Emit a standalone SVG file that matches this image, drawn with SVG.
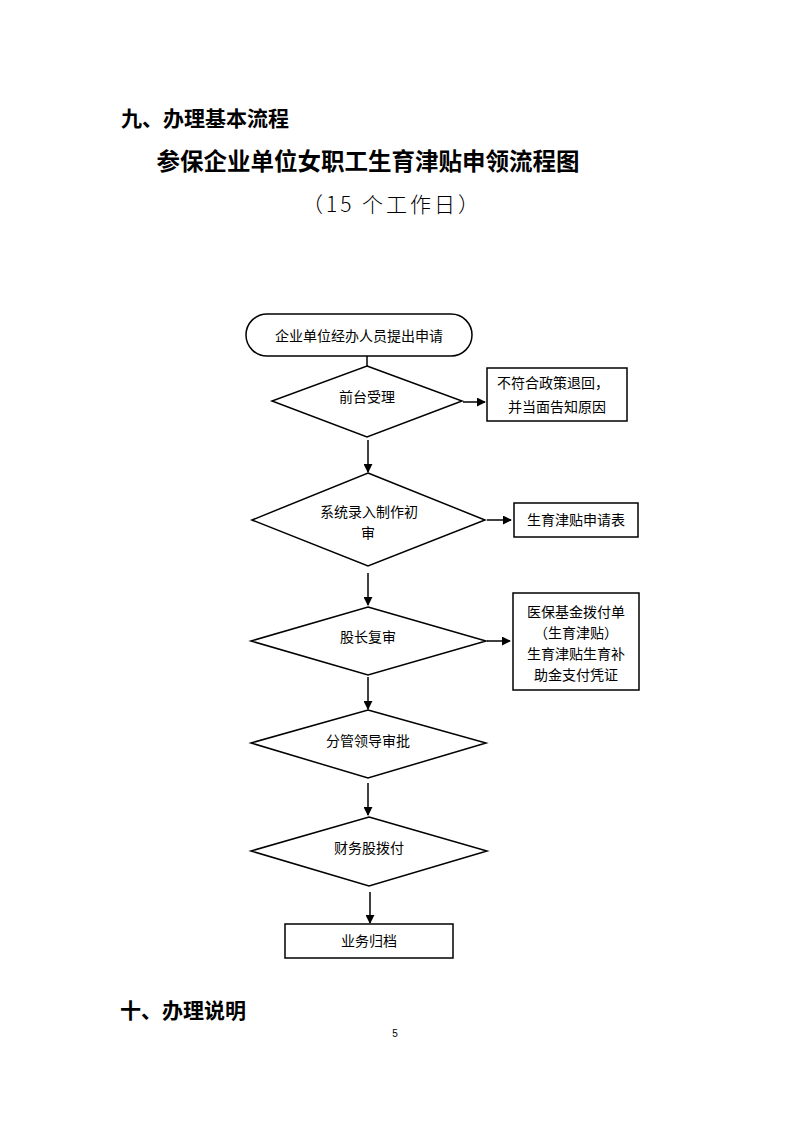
<svg xmlns="http://www.w3.org/2000/svg" width="793" height="1122" viewBox="0 0 793 1122">
<defs>
<style>
.shape{fill:#fff;stroke:#000;stroke-width:1.5}
.t{font-family:"Noto Sans CJK SC","Liberation Sans",sans-serif;font-size:14px;fill:#000;text-anchor:middle}
.h{font-family:"Noto Sans CJK SC","Liberation Sans",sans-serif;font-size:21px;font-weight:bold;fill:#000}
.c line{stroke:#000;stroke-width:1.5;fill:none}
</style>
<marker id="ah" viewBox="0 0 10 10" refX="9" refY="5" markerWidth="9" markerHeight="9" markerUnits="userSpaceOnUse" orient="auto">
<path d="M0,0 L10,5 L0,10 z" fill="#000"/>
</marker>
</defs>
<rect width="793" height="1122" fill="#fff"/>
<text class="h" x="121" y="126">九、办理基本流程</text>
<text x="368" y="170" font-family="'Noto Sans CJK SC',sans-serif" font-size="23.5" font-weight="bold" text-anchor="middle">参保企业单位女职工生育津贴申领流程图</text>
<text x="392" y="212" font-family="'Noto Sans CJK SC',sans-serif" font-size="21" font-weight="300" letter-spacing="3" text-anchor="middle">（15 个工作日）</text>

<g class="c">
<line x1="367" y1="356" x2="367" y2="366"/>
<line x1="463" y1="402" x2="485" y2="402" marker-end="url(#ah)"/>
<line x1="368" y1="440" x2="368" y2="472" marker-end="url(#ah)"/>
<line x1="487" y1="520" x2="511" y2="520" marker-end="url(#ah)"/>
<line x1="368" y1="573" x2="368" y2="605" marker-end="url(#ah)"/>
<line x1="487" y1="641" x2="510" y2="641" marker-end="url(#ah)"/>
<line x1="368" y1="677" x2="368" y2="709" marker-end="url(#ah)"/>
<line x1="368" y1="783" x2="368" y2="815" marker-end="url(#ah)"/>
<line x1="370" y1="892" x2="370" y2="923" marker-end="url(#ah)"/>
</g>

<g id="start">
<rect class="shape" x="246" y="314" width="226" height="42" rx="21" ry="21"/>
<text class="t" x="359" y="341">企业单位经办人员提出申请</text>
</g>
<g id="d1">
<polygon class="shape" points="367,366 462,401 367,437 272,401"/>
<text class="t" x="367" y="402">前台受理</text>
</g>
<g id="b1">
<rect class="shape" x="487" y="368" width="140" height="53"/>
<text class="t" x="553" y="388">不符合政策退回，</text>
<text class="t" x="557" y="412">并当面告知原因</text>
</g>
<g id="d2">
<polygon class="shape" points="368,473 485,520 368,566 252,520"/>
<text class="t" x="369" y="517">系统录入制作初</text>
<text class="t" x="368" y="538">审</text>
</g>
<g id="b2">
<rect class="shape" x="514" y="503" width="124" height="34"/>
<text class="t" x="576" y="525">生育津贴申请表</text>
</g>
<g id="d3">
<polygon class="shape" points="368,607 486,641 368,675 251,641"/>
<text class="t" x="368" y="642">股长复审</text>
</g>
<g id="b3">
<rect class="shape" x="513" y="593" width="126" height="97"/>
<text class="t" x="576" y="617">医保基金拨付单</text>
<text class="t" x="576" y="638">（生育津贴）</text>
<text class="t" x="576" y="659">生育津贴生育补</text>
<text class="t" x="576" y="680">助金支付凭证</text>
</g>
<g id="d4">
<polygon class="shape" points="368,710 486,743 368,778 251,743"/>
<text class="t" x="368" y="746">分管领导审批</text>
</g>
<g id="d5">
<polygon class="shape" points="369,817 487,851 369,886 251,851"/>
<text class="t" x="369" y="853">财务股拨付</text>
</g>
<g id="end">
<rect class="shape" x="285" y="924" width="168" height="34"/>
<text class="t" x="369" y="946">业务归档</text>
</g>

<text class="h" x="120" y="1018">十、办理说明</text>
<text x="395" y="1037" font-family="'Liberation Sans',sans-serif" font-size="10" text-anchor="middle">5</text>
</svg>
